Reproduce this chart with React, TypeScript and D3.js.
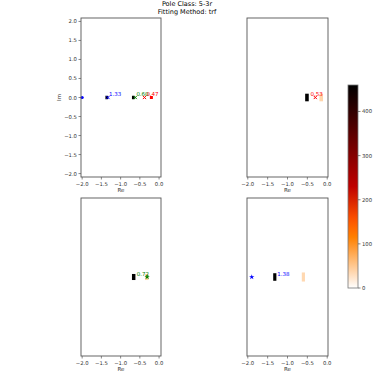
import React from 'react';
import * as d3 from 'd3';

// chart values
const titleLines = ['Pole Class: 5-3r', 'Fitting Method: trf'];
const reTicks = [-2.0, -1.5, -1.0, -0.5, 0.0];
const imTicks = [2.0, 1.5, 1.0, 0.5, 0.0, -0.5, -1.0, -1.5, -2.0];
const cbTicks = [0, 100, 200, 300, 400];
const cbMax = 460;

// histogram cells: panel, re, im, count
const cellPanel = [0, 0, 1, 1, 2, 2, 3, 3];
const cellRe = [-1.36, -0.67, -0.51, -0.15, -0.66, -0.32, -1.32, -0.6];
const cellIm = [0, 0, 0, 0, 0, 0, 0, 0];
const cellCount = [460, 460, 460, 38, 460, 40, 460, 35];
const cellW = [0.07, 0.07, 0.09, 0.09, 0.09, 0.09, 0.08, 0.08];
const cellH = [0.09, 0.09, 0.2, 0.2, 0.16, 0.16, 0.2, 0.24];

// pole markers: panel, re, im, shape, colour
const mkPanel = [0, 0, 0, 0, 0, 1, 2, 3];
const mkRe = [-2.0, -1.33, -0.62, -0.38, -0.2, -0.3, -0.31, -1.9];
const mkIm = [0, 0, 0, 0, 0, 0, 0, 0];
const mkShape = ['o', 'x', 'x', 'x', 's', 'x', '*', '*'];
const mkColor = ['blue', 'blue', 'green', 'red', 'red', 'red', 'green', 'blue'];

// value labels: panel, re, text, colour
const lbPanel = [0, 0, 0, 1, 2, 3];
const lbRe = [-1.3, -0.59, -0.33, -0.42, -0.58, -1.26];
const lbText = ['1.33', '0.60', '0.47', '0.53', '0.72', '1.38'];
const lbColor = ['blue', 'green', 'red', 'red', 'green', 'blue'];

const panels = [
  { x0: 81, x1: 161, y0: 18, y1: 177, dom: [-2.03, 0.05], yAxis: true },
  { x0: 247, x1: 328, y0: 18, y1: 177, dom: [-2.02, 0.02], yAxis: false },
  { x0: 81, x1: 161, y0: 198, y1: 356, dom: [-2.03, 0.05], yAxis: false },
  { x0: 247, x1: 328, y0: 198, y1: 356, dom: [-2.02, 0.02], yAxis: false },
];

const gistHeatR = (t: number) => {
  const x = 1 - Math.max(0, Math.min(1, t));
  const c = (v: number) => Math.round(255 * Math.max(0, Math.min(1, v)));
  return `rgb(${c(1.5 * x)},${c(2 * x - 1)},${c(4 * x - 3)})`;
};

const fmt = (v: number) => d3.format('.1f')(v).replace('-', '\u2212');
const font = 'DejaVu Sans, sans-serif';

const Marker = ({ shape, x, y, color }: any) => {
  if (shape === 'o') return <circle cx={x} cy={y} r={1.6} fill={color} />;
  if (shape === 's') return <rect x={x - 1.5} y={y - 1.5} width={3} height={3} fill={color} />;
  if (shape === '*') {
    const star = d3.symbol().type(d3.symbolStar).size(9)();
    return <path d={star || ''} transform={`translate(${x},${y})`} fill={color} />;
  }
  const s = 1.6;
  return (
    <path d={`M${x - s},${y - s}L${x + s},${y + s}M${x - s},${y + s}L${x + s},${y - s}`}
      stroke={color} strokeWidth={1} />
  );
};

const Panel = ({ p, i }: any) => {
  const xs = d3.scaleLinear().domain(p.dom).range([p.x0, p.x1]);
  const ys = d3.scaleLinear().domain([-2.09, 2.09]).range([p.y1, p.y0]);
  const cells = cellPanel.map((pp, k) => ({ pp, k })).filter((d) => d.pp === i);
  const marks = mkPanel.map((pp, k) => ({ pp, k })).filter((d) => d.pp === i);
  const labels = lbPanel.map((pp, k) => ({ pp, k })).filter((d) => d.pp === i);
  return (
    <g>
      {cells.map(({ k }) => (
        <rect key={'c' + k}
          x={xs(cellRe[k] - cellW[k] / 2)} width={xs(cellW[k]) - xs(0)}
          y={ys(cellIm[k] + cellH[k] / 2)} height={ys(0) - ys(cellH[k])}
          fill={gistHeatR(cellCount[k] / cbMax)} />
      ))}
      {marks.map(({ k }) => (
        <Marker key={'m' + k} shape={mkShape[k]} x={xs(mkRe[k])} y={ys(mkIm[k])} color={mkColor[k]} />
      ))}
      {labels.map(({ k }) => (
        <text key={'l' + k} x={xs(lbRe[k])} y={ys(0) - 1.5} fontSize={5.5}
          fontFamily={font} fill={lbColor[k]}>{lbText[k]}</text>
      ))}
      <rect x={p.x0} y={p.y0} width={p.x1 - p.x0} height={p.y1 - p.y0}
        fill="none" stroke="#555" strokeWidth={0.9} />
      {reTicks.map((t) => (
        <g key={'x' + t}>
          <line x1={xs(t)} x2={xs(t)} y1={p.y1} y2={p.y1 + 2.5} stroke="#555" strokeWidth={0.7} />
          <text x={xs(t)} y={p.y1 + 8.5} fontSize={5.3} fontFamily={font}
            textAnchor="middle" fill="#333">{fmt(t)}</text>
        </g>
      ))}
      <text x={(p.x0 + p.x1) / 2} y={p.y1 + 15} fontSize={5.5} fontFamily={font}
        textAnchor="middle" fill="#333">Re</text>
      {p.yAxis && imTicks.map((t) => (
        <g key={'y' + t}>
          <line x1={p.x0 - 2.5} x2={p.x0} y1={ys(t)} y2={ys(t)} stroke="#555" strokeWidth={0.7} />
          <text x={p.x0 - 4} y={ys(t) + 2} fontSize={5.3} fontFamily={font}
            textAnchor="end" fill="#333">{fmt(t)}</text>
        </g>
      ))}
      {p.yAxis && (
        <text transform={`translate(${p.x0 - 20},${ys(0)}) rotate(-90)`} fontSize={5.5}
          fontFamily={font} textAnchor="middle" fill="#333">Im</text>
      )}
    </g>
  );
};

const App = () => {
  const cb = { x0: 348, x1: 358, y0: 85, y1: 288 };
  const cs = d3.scaleLinear().domain([0, cbMax]).range([cb.y1, cb.y0]);
  const stops = d3.range(0, 1.0001, 0.05);
  return (
    <svg width={374} height={374} style={{ position: 'absolute', left: 0, top: 0 }}>
      <rect width={374} height={374} fill="white" />
      {titleLines.map((t, k) => (
        <text key={t} x={187} y={6 + k * 7.5} fontSize={6.5} fontFamily={font}
          textAnchor="middle" fill="#000">{t}</text>
      ))}
      {panels.map((p, i) => <Panel key={i} p={p} i={i} />)}
      <defs>
        <linearGradient id="cbg" x1="0" y1="1" x2="0" y2="0">
          {stops.map((s) => (
            <stop key={s} offset={s} stopColor={gistHeatR(s)} />
          ))}
        </linearGradient>
      </defs>
      <rect x={cb.x0} y={cb.y0} width={cb.x1 - cb.x0} height={cb.y1 - cb.y0}
        fill="url(#cbg)" stroke="#777" strokeWidth={0.8} />
      {cbTicks.map((t) => (
        <g key={'cb' + t}>
          <line x1={cb.x1} x2={cb.x1 + 2.5} y1={cs(t)} y2={cs(t)} stroke="#555" strokeWidth={0.7} />
          <text x={cb.x1 + 4} y={cs(t) + 2} fontSize={5.3} fontFamily={font} fill="#333">{t}</text>
        </g>
      ))}
    </svg>
  );
};

export default App;
